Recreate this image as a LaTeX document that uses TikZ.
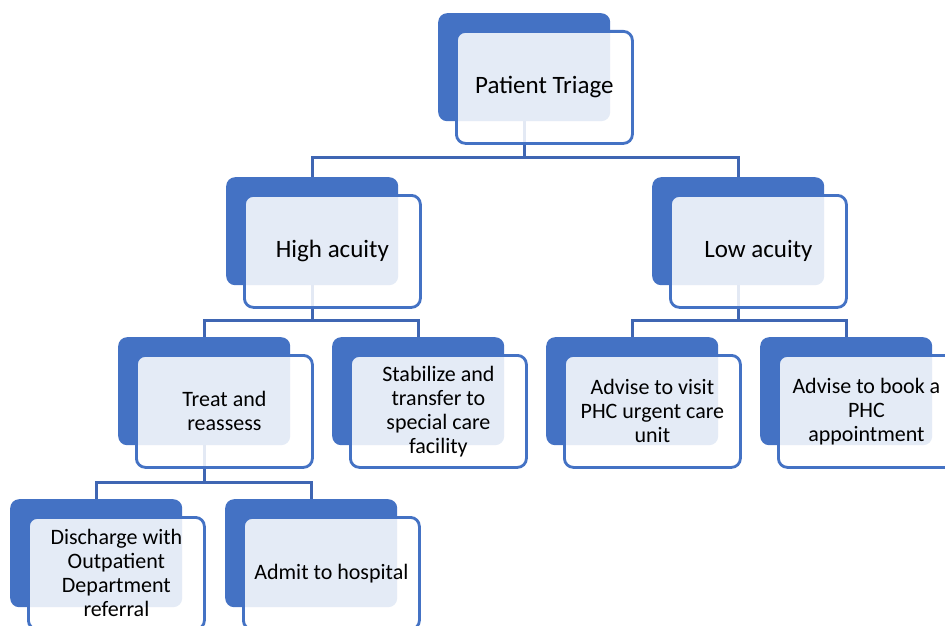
\documentclass[tikz,border=0pt]{standalone}
\usepackage{fontspec}
\setmainfont{Carlito}
\usetikzlibrary{backgrounds,calc}
\definecolor{tblue}{HTML}{4472C4}
\definecolor{cblue}{HTML}{3F66B3}
\begin{document}
\begin{tikzpicture}[x=1pt,y=1pt,
  backbox/.style={rectangle, rounded corners=9pt, fill=tblue, minimum width=172pt, minimum height=108pt, inner sep=0pt, anchor=north west},
  frontbox/.style={rectangle, rounded corners=9pt, draw=tblue, draw opacity=1, line width=2.8pt, fill=white, fill opacity=0.86, text opacity=1, minimum width=176pt, minimum height=112pt, align=center, font=\fontsize{22}{24}\selectfont, anchor=north west, inner sep=0pt},
  bigtext/.style={font=\fontsize{25}{27}\selectfont},
  conn/.style={draw=cblue, line width=3pt}]
\useasboundingbox (0,0) rectangle (945,-626);
\clip (0,0) rectangle (945,-626);
\newcommand{\tribox}[5][]{%
  \node[backbox] (#2b) at (#3,-#4) {};
  \node[frontbox,#1] (#2) at ($(#2b.north west)+(17,-17)$) {#5};}
\tribox[bigtext]{pt}{438}{13}{Patient Triage}
\tribox[bigtext]{ha}{226}{177}{High acuity}
\tribox[bigtext]{la}{652}{177}{Low acuity}
\tribox{tr}{118}{337}{Treat and\\reassess}
\tribox{st}{332}{337}{Stabilize and\\transfer to\\special care\\facility}
\tribox{av}{546}{337}{Advise to visit\\PHC urgent care\\unit}
\tribox{ab}{760}{337}{Advise to book a\\PHC\\appointment}
\tribox{dc}{10}{499}{Discharge with\\Outpatient\\Department\\referral}
\tribox{ad}{225}{499}{Admit to hospital}
\begin{scope}[on background layer]
  \draw[conn] (ptb.south) -- ++(0,-36) -| (hab.north);
  \draw[conn] (ptb.south) -- ++(0,-36) -| (lab.north);
  \draw[conn] (hab.south) -- ++(0,-35) -| (trb.north);
  \draw[conn] (hab.south) -- ++(0,-35) -| (stb.north);
  \draw[conn] (lab.south) -- ++(0,-35) -| (avb.north);
  \draw[conn] (lab.south) -- ++(0,-35) -| (abb.north);
  \draw[conn] (trb.south) -- ++(0,-37) -| (dcb.north);
  \draw[conn] (trb.south) -- ++(0,-37) -| (adb.north);
\end{scope}
\end{tikzpicture}
\end{document}
